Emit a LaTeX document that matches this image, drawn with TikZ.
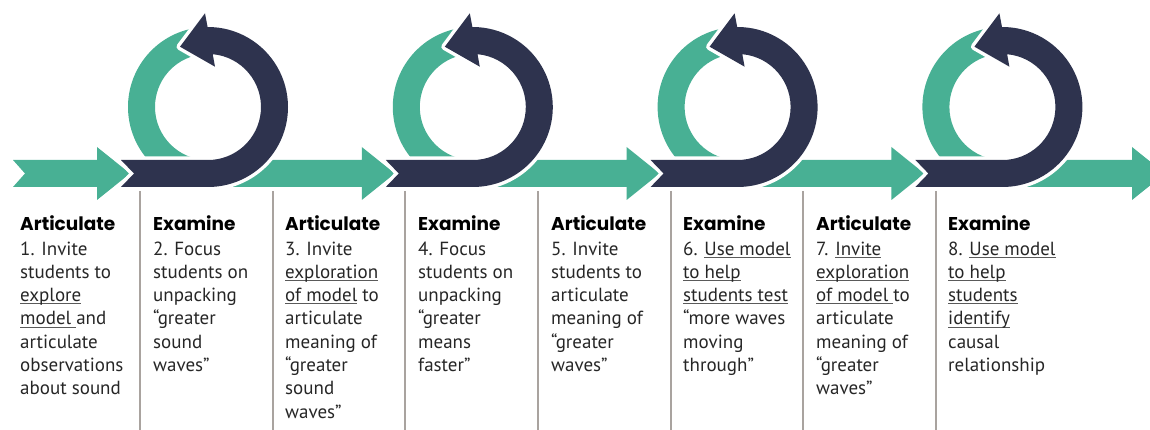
\documentclass[tikz,border=0pt]{standalone}
\usepackage{fontspec}
\setmainfont{PT Sans}
\newfontfamily\headfont{Poppins}
\definecolor{tgreen}{HTML}{48B094}
\definecolor{tnavy}{HTML}{2E334E}
\definecolor{sepgray}{HTML}{A9A39F}
\definecolor{txt}{HTML}{262626}
\definecolor{ulgray}{HTML}{5A5A5A}
\newcommand\myul[1]{\setbox0\hbox{#1}\rlap{\textcolor{ulgray}{\rule[-2.6pt]{\wd0}{0.9pt}}}#1}
\begin{document}
\begin{tikzpicture}[x=1pt,y=1pt,
  headtxt/.style={anchor=base west, inner sep=0pt, font=\headfont\bfseries\fontsize{18.5}{23}\selectfont, text=black},
  bodytxt/.style={anchor=base west, inner sep=0pt, align=left, font=\fontsize{19}{23.3}\selectfont, text=txt},
  greenshape/.style={fill=tgreen},
  navyhalo/.style={draw=white, line width=7pt, line join=round, fill=white},
  navyshape/.style={fill=tnavy},
  sepline/.style={draw=sepgray, line width=1.5pt}]
\useasboundingbox (0,0) rectangle (1150,-430);
\clip (0,0) rectangle (1150,-430);
% green arcs
\foreach \c in {208,472.8,737.6,1002.4}{
  \begin{scope}[shift={(\c,-107)}]
    \fill[greenshape] (100:80pt) arc[start angle=100,end angle=270,radius=80pt] -- (270:53pt) arc[start angle=270,end angle=100,radius=53pt] -- cycle;
  \end{scope}
}
% green arrows
\fill[greenshape] (13,-160) -- (25,-173.5) -- (13,-187) -- (97,-187) -- (97,-200) -- (130,-173.5) -- (97,-147) -- (97,-160) -- cycle;
\foreach \c in {208,472.8,737.6}{
  \fill[greenshape] (\c+10,-160) -- (\c+10,-187) -- (\c+153.8,-187) -- (\c+153.8,-200) -- (\c+186.8,-173.5) -- (\c+153.8,-147) -- (\c+153.8,-160) -- cycle;
}
\fill[greenshape] (1012,-160) -- (1012,-187) -- (1132,-187) -- (1132,-200) -- (1165,-173.5) -- (1132,-147) -- (1132,-160) -- cycle;
% navy loops
\foreach \c in {208,472.8,737.6,1002.4}{
  \begin{scope}[shift={(\c,-107)}]
    \path[navyhalo] (-87,-53) -- (-74,-66.5) -- (-87,-80) -- (0,-80) arc[start angle=-90,end angle=90.3,radius=80pt] -- (-3,93.7) -- (-28,60.3) -- (7,40.3) -- (84.9:53pt) arc[start angle=84.9,end angle=-90,radius=53pt] -- cycle;
    \fill[navyshape] (-87,-53) -- (-74,-66.5) -- (-87,-80) -- (0,-80) arc[start angle=-90,end angle=90.3,radius=80pt] -- (-3,93.7) -- (-28,60.3) -- (7,40.3) -- (84.9:53pt) arc[start angle=84.9,end angle=-90,radius=53pt] -- cycle;
  \end{scope}
}
% separators
\foreach \x in {140,273,405,538,671,803,936}{
  \draw[sepline] (\x,-191) -- (\x,-432);
}
% texts (body nodes are placed by the baseline of their last line)
\node[headtxt] (h1) at (20,-231) {Articulate};
\node[bodytxt] (b1) at (20,{-255-6*23.3}) {1. Invite\\students to\\\myul{explore}\\\myul{model }and\\articulate\\observations\\about sound};
\node[headtxt] (h2) at (153,-231) {Examine};
\node[bodytxt] (b2) at (153,{-255-5*23.3}) {2. Focus\\students on\\unpacking\\“greater\\sound\\waves”};
\node[headtxt] (h3) at (285,-231) {Articulate};
\node[bodytxt] (b3) at (285,{-255-7*23.3}) {3. Invite\\\myul{exploration}\\\myul{of model} to\\articulate\\meaning of\\“greater\\sound\\waves”};
\node[headtxt] (h4) at (418,-231) {Examine};
\node[bodytxt] (b4) at (418,{-255-5*23.3}) {4. Focus\\students on\\unpacking\\“greater\\means\\faster”};
\node[headtxt] (h5) at (551,-231) {Articulate};
\node[bodytxt] (b5) at (551,{-255-5*23.3}) {5. Invite\\students to\\articulate\\meaning of\\“greater\\waves”};
\node[headtxt] (h6) at (683,-231) {Examine};
\node[bodytxt] (b6) at (683,{-255-5*23.3}) {6. \myul{Use model}\\\myul{to help}\\\myul{students test}\\“more waves\\moving\\through”};
\node[headtxt] (h7) at (816,-231) {Articulate};
\node[bodytxt] (b7) at (816,{-255-6*23.3}) {7. \myul{Invite}\\\myul{exploration}\\\myul{of model }to\\articulate\\meaning of\\“greater\\waves”};
\node[headtxt] (h8) at (948,-231) {Examine};
\node[bodytxt] (b8) at (948,{-255-5*23.3}) {8. \myul{Use model}\\\myul{to help}\\\myul{students}\\\myul{identify}\\causal\\relationship};
\end{tikzpicture}
\end{document}
